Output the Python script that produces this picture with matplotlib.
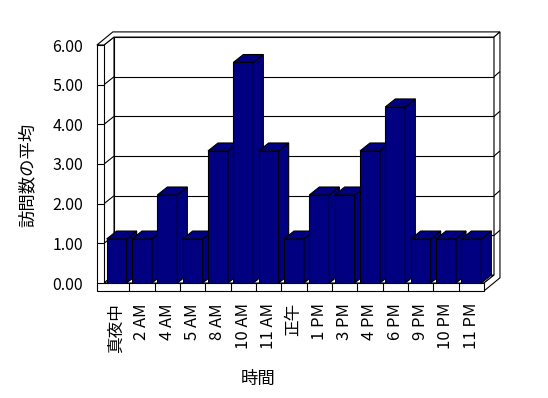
import matplotlib
matplotlib.use('Agg')
from matplotlib import pyplot as plt
from matplotlib.patches import Polygon

plt.rcParams['font.family'] = ['Noto Sans CJK JP', 'DejaVu Sans']

hours = ['真夜中', '2 AM', '4 AM', '5 AM', '8 AM', '10 AM', '11 AM', '正午',
         '1 PM', '3 PM', '4 PM', '6 PM', '9 PM', '10 PM', '11 PM']
visits = [1.11, 1.11, 2.22, 1.11, 3.33, 5.56, 3.33, 1.11,
          2.22, 2.22, 3.33, 4.44, 1.11, 1.11, 1.11]
y_ticks = [0, 1, 2, 3, 4, 5, 6]
y_labels = ['%.2f' % t for t in y_ticks]

navy = '#000080'
lw = 0.8

# fake 3d: depth offsets in data units (category units, value units)
dx, dy = 0.395, 0.2      # front plane -> face of back wall
dxt, dyt = 0.63, 0.33    # front plane -> back of the wall slab
wall = 0.28              # left wall thickness
floor = 0.2              # floor thickness
half = 0.395             # half bar width

fig = plt.figure(figsize=(5.48, 3.98), dpi=100)
ax = fig.add_axes([104 / 548, 115 / 398, 380 / 548, 238 / 398])
ax.set_xlim(-0.5, len(hours) - 0.5)
ax.set_ylim(0, 6)
x0, x1, top = -0.5, len(hours) - 0.5, 6


def poly(pts, fc='white', z=1):
    ax.add_patch(Polygon(pts, closed=True, fc=fc, ec='black', lw=lw,
                         clip_on=False, zorder=z, joinstyle='miter'))


def line(xs, ys, z=2):
    ax.plot(xs, ys, color='black', lw=lw, clip_on=False, zorder=z,
            solid_capstyle='butt')


# walls and floor
poly([(x0 + dx, dy), (x1 + dx, dy), (x1 + dx, top + dy), (x0 + dx, top + dy)])
poly([(x0, 0), (x0 + dx, dy), (x0 + dx, top + dy), (x0, top)])
poly([(x0, 0), (x1, 0), (x1 + dx, dy), (x0 + dx, dy)])
poly([(x0 - wall, top), (x0, top), (x0 + dx, top + dy), (x1 + dx, top + dy),
      (x1 + dxt, top + dyt), (x0 - wall + dxt, top + dyt)])
poly([(x1 + dx, top + dy), (x1 + dxt, top + dyt), (x1 + dxt, -floor + dyt),
      (x1, -floor), (x1, 0), (x1 + dx, dy)])
poly([(x0 - wall, top), (x0, top), (x0, 0), (x1, 0), (x1, -floor),
      (x0 - wall, -floor)], z=50)

# gridlines
for v in y_ticks[1:-1]:
    line([x0 + dx, x1 + dx], [v + dy, v + dy])
    line([x0, x0 + dx], [v, v + dy])
    line([x1 + dx, x1 + dxt], [v + dy, v + dyt])
for v in y_ticks[:-1]:
    line([x0 - wall, x0], [v, v], z=51)
for k in range(1, len(hours)):
    line([x0 + k, x0 + k], [-floor, 0], z=51)

# bars
xs = list(range(len(hours)))
bars = ax.bar(xs, visits, width=2 * half, color=navy, edgecolor='black',
              linewidth=lw)
for i, (b, v) in enumerate(zip(bars, visits)):
    b.set_zorder(10 + 2 * i)
    b.set_clip_on(False)
    r, l = i + half, i - half
    poly([(r, 0), (r + dx, dy), (r + dx, v + dy), (r, v)], fc=navy, z=11 + 2 * i)
    poly([(l, v), (r, v), (r + dx, v + dy), (l + dx, v + dy)], fc=navy, z=11 + 2 * i)

ax.set_xticks(xs, hours, rotation=90, fontsize=12)
ax.set_yticks(y_ticks, y_labels, fontsize=11.5)
ax.tick_params(axis='x', length=0, pad=14.4)
ax.tick_params(axis='y', length=0, pad=15)
for s in ax.spines.values():
    s.set_visible(False)
ax.patch.set_visible(False)

ax.set_ylabel('訪問数の平均', fontsize=12.5)
ax.yaxis.set_label_coords(-0.176, 0.454)
ax.set_xlabel('時間', fontsize=12.5)
ax.xaxis.set_label_coords(0.405, -0.366)

fig.savefig('out.png', dpi=100)
